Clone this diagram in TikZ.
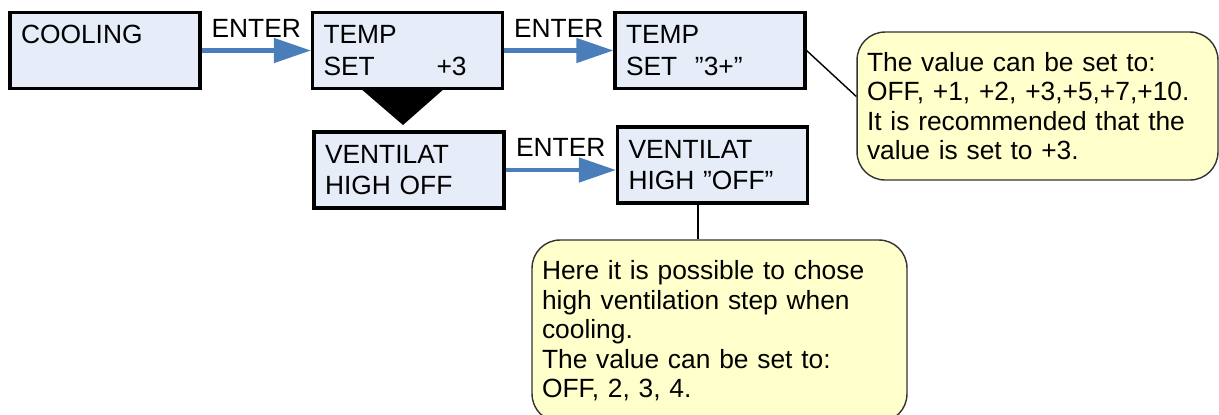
\documentclass[tikz,border=0pt]{standalone}
\usepackage{fontspec}
\setmainfont{Liberation Sans}
\usetikzlibrary{arrows.meta,calc}
\definecolor{lcdfill}{RGB}{230,236,248}
\definecolor{notefill}{RGB}{255,255,204}
\definecolor{enterblue}{RGB}{74,126,187}
\tikzset{
	lcd/.style={draw=black, line width=1.8pt, fill=lcdfill, text width=3.36cm, inner xsep=0.22cm, inner ysep=0pt, minimum height=1.52cm, align=left, font=\fontsize{15pt}{17.9pt}\selectfont},
	note/.style={draw=black!80, line width=0.8pt, fill=notefill, rounded corners=0.56cm, inner xsep=0.2cm, inner ysep=0pt, align=left, font=\fontsize{15pt}{16.8pt}\selectfont},
	enter/.style={-{Triangle[length=0.74cm,width=0.48cm]}, line width=0.09cm, color=enterblue},
	enterlabel/.style={font=\fontsize{15pt}{16.8pt}\selectfont, inner sep=0pt, above=0.22cm, text=black}
}

\begin{document}
\begin{tikzpicture}[x=0.02cm, y=-0.02cm]
			%%%%% START %%%%%
			\useasboundingbox (0, 0) rectangle (1219, 414);
			
			\node[lcd] (cooling) at (105, 50.5) {COOLING\\\mbox{}};
			\node[lcd] (tempset) at (407.5, 50.5) {TEMP\\\makebox[2.26cm][l]{SET}+3};
			\node[lcd] (tempedit) at (710, 50.5) {TEMP\\\makebox[1.38cm][l]{SET}”3+”};
			\node[lcd] (ventset) at (409, 170) {VENTILAT\\HIGH OFF};
			\node[lcd] (ventedit) at (712.5, 165) {VENTILAT\\HIGH ”OFF”};
			
			\fill[black] (360, 88) -- (445, 88) -- (403, 125) -- cycle;
			
			\draw[enter] (cooling.east) -- (tempset.west) node[midway, enterlabel] {ENTER};
			\draw[enter] (tempset.east) -- (tempedit.west) node[midway, enterlabel] {ENTER};
			\draw[enter] (ventset.east) -- (ventset.east -| ventedit.west) node[midway, enterlabel] {ENTER};
			
			\node[note, text width=6.82cm, minimum height=2.96cm] (note1) at (1037.5, 106) {The value can be set to:\\OFF, +1, +2, +3,+5,+7,+10.\\It is recommended that the\\value is set to +3.};
			\node[note, text width=7.1cm, minimum height=3.64cm] (note2) at (719.5, 331) {Here it is possible to chose\\high ventilation step when\\cooling.\\The value can be set to:\\OFF, 2, 3, 4.};
			
			\draw[line width=0.8pt] (tempedit.east) -- (note1.177);
			\coordinate (drop) at ($(ventedit.south)+(-14.5, 0)$);
			\draw[line width=0.8pt] (drop) -- (drop |- note2.north);
			
			%%%%% END %%%%%
\end{tikzpicture}
\end{document}
